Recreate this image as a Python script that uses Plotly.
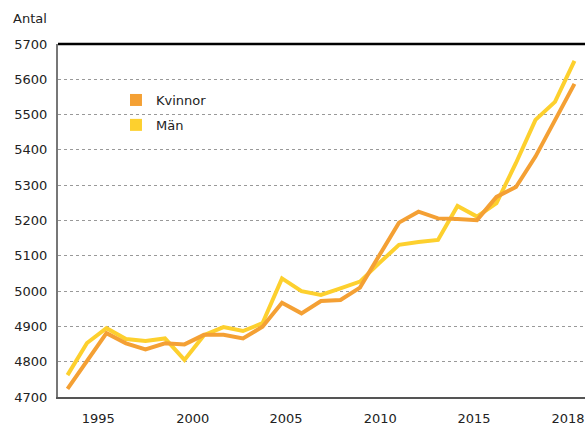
import plotly.graph_objects as go

years = list(range(1992, 2019))
kvinnor = [4723, 4802, 4881, 4852, 4835, 4852, 4849, 4876, 4876, 4866,
           4899, 4967, 4937, 4972, 4975, 5010, 5102, 5194, 5225, 5206,
           5204, 5201, 5267, 5295, 5381, 5483, 5587]
man = [4762, 4853, 4895, 4864, 4859, 4866, 4805, 4875, 4898, 4887,
       4909, 5036, 5000, 4989, 5008, 5027, 5080, 5131, 5139, 5145,
       5241, 5211, 5249, 5363, 5485, 5536, 5652]

tick_labels = ["1995", "2000", "2005", "2010", "2015", "2018"]
tick_pos = [1993.58, 1998.42, 2003.21, 2008.04, 2012.85, 2017.67]
y_ticks = [4700, 4800, 4900, 5000, 5100, 5200, 5300, 5400, 5500, 5600, 5700]

C_K = "#F4A034"
C_M = "#FDD02E"
FONT = "DejaVu Sans"

fig = go.Figure()
fig.add_trace(go.Scatter(x=years, y=man, mode="lines", name="Män",
                         line=dict(color=C_M, width=4), showlegend=False))
fig.add_trace(go.Scatter(x=years, y=kvinnor, mode="lines", name="Kvinnor",
                         line=dict(color=C_K, width=4), showlegend=False))
# legend squares
fig.add_trace(go.Scatter(x=[None], y=[None], mode="markers", name="Kvinnor",
                         marker=dict(symbol="square", size=12, color=C_K),
                         legendgroup="k", showlegend=True))
fig.add_trace(go.Scatter(x=[None], y=[None], mode="markers", name="Män",
                         marker=dict(symbol="square", size=12, color=C_M),
                         legendgroup="m", showlegend=True))

fig.update_layout(
    width=585, height=427,
    margin=dict(l=58, r=0, t=44, b=30),
    paper_bgcolor="white", plot_bgcolor="white",
    font=dict(family=FONT, size=13, color="#222222"),
    showlegend=True,
    legend=dict(x=0.11, y=0.8838, xanchor="left", yanchor="top",
                bgcolor="rgba(0,0,0,0)", tracegroupgap=5,
                font=dict(family=FONT, size=13, color="#222222")),
    xaxis=dict(range=[1991.513, 2018.54], tickvals=tick_pos, ticktext=tick_labels,
               showgrid=False, zeroline=False, showline=True, linecolor="#555555",
               linewidth=2, ticks="", ticklabelstandoff=8, automargin=False,
               ticklabeloverflow="allow",
               tickfont=dict(family=FONT, size=13, color="#222222")),
    yaxis=dict(range=[4700, 5700], tickvals=y_ticks, showgrid=True,
               gridcolor="#999999", griddash="dot", gridwidth=1, zeroline=False,
               showline=True, linecolor="#777777", linewidth=2, ticks="",
               ticklabelstandoff=6, automargin=False,
               tickfont=dict(family=FONT, size=13, color="#222222")),
    shapes=[dict(type="line", xref="paper", yref="paper", x0=0, x1=1, y0=1, y1=1,
                 line=dict(color="black", width=2.5))],
    annotations=[dict(text="Antal", xref="paper", yref="paper",
                      x=(11 - 58) / 527, y=1 + (44 - 18) / 353,
                      xanchor="left", yanchor="middle", showarrow=False,
                      font=dict(family=FONT, size=13, color="#222222"))],
)

fig.write_html(
    "out.html",
    config={"displayModeBar": False},
    post_script="document.body.style.margin='0';"
                "document.documentElement.style.overflow='hidden';"
                "document.body.style.overflow='hidden';",
)
